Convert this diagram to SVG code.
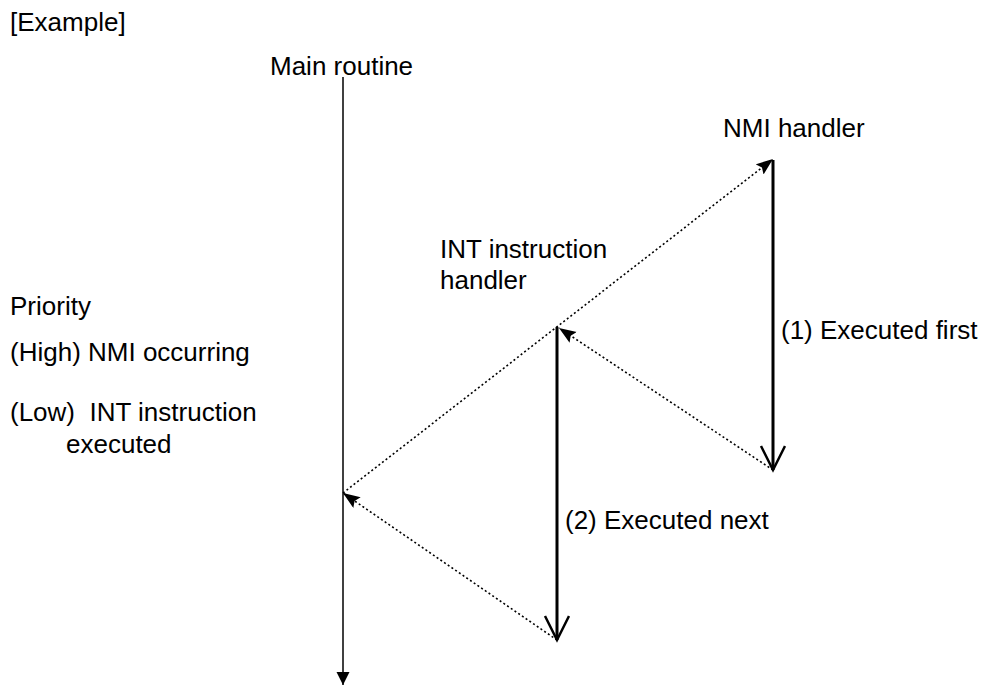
<svg xmlns="http://www.w3.org/2000/svg" width="990" height="686" viewBox="0 0 990 686">
<style>
text{font-family:"Liberation Sans",Arial,sans-serif;font-size:26px;fill:#000}
.dot{stroke:#000;stroke-width:1.6;stroke-dasharray:2,2.5;fill:none}
.thick{stroke:#000;stroke-width:3;fill:none}
.thin{stroke:#000;stroke-width:1.5;fill:none}
</style>
<defs>
<marker id="fill" markerUnits="userSpaceOnUse" markerWidth="20" markerHeight="14" refX="17" refY="6.5" orient="auto">
<path d="M0,0 L17,6.5 L0,13 L3,6.5 z" fill="#000"/>
</marker>
<marker id="tri" markerUnits="userSpaceOnUse" markerWidth="14" markerHeight="14" refX="13" refY="6.5" orient="auto">
<path d="M0,0 L13,6.5 L0,13 z" fill="#000"/>
</marker>
<marker id="vee" markerUnits="userSpaceOnUse" markerWidth="30" markerHeight="30" refX="25" refY="13" orient="auto">
<path d="M1,1 L25,13 L1,25" fill="none" stroke="#000" stroke-width="2.5"/>
</marker>
</defs>
<text x="10" y="31">[Example]</text>
<g id="main">
<text x="270" y="75">Main routine</text>
</g>
<g id="nmi">
<text x="723" y="137">NMI handler</text>
</g>
<g id="int">
<text x="440" y="258">INT instruction</text>
<text x="440" y="289">handler</text>
</g>
<g id="legend">
<text x="10" y="315">Priority</text>
<text x="10" y="361">(High) NMI occurring</text>
<text x="10" y="421" xml:space="preserve">(Low)  INT instruction</text>
<text x="66" y="453">executed</text>
</g>
<g id="labels">
<text x="781" y="339">(1) Executed first</text>
<text x="565" y="529">(2) Executed next</text>
</g>
<g id="connectors">
<line class="thin" x1="343" y1="77" x2="343" y2="685" marker-end="url(#tri)"/>
<line class="thick" x1="773" y1="160" x2="773" y2="470" marker-end="url(#vee)"/>
<line class="thick" x1="557" y1="327" x2="557" y2="640" marker-end="url(#vee)"/>
<line class="dot" x1="343" y1="493" x2="773" y2="159" marker-end="url(#fill)"/>
<line class="dot" x1="773" y1="470" x2="559" y2="328" marker-end="url(#fill)"/>
<line class="dot" x1="557" y1="640" x2="343" y2="493" marker-end="url(#fill)"/>
</g>
</svg>
